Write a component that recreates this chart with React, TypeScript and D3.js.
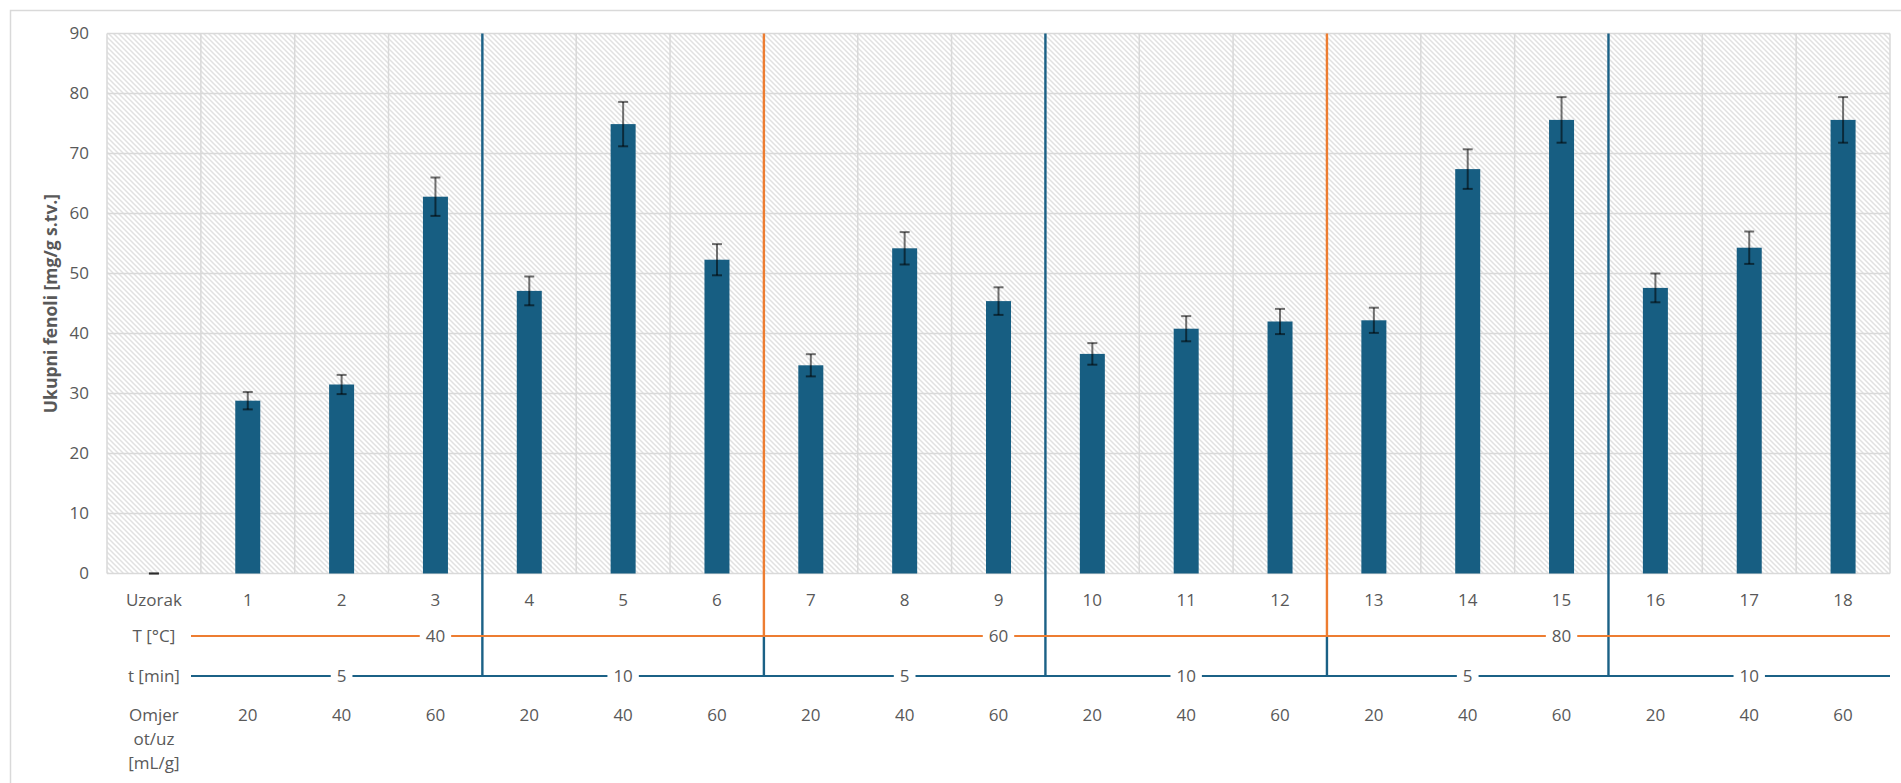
import React from "react";
import * as d3 from "d3";

// Sample labels (first slot carries the row caption "Uzorak")
const samples = ["Uzorak", "1", "2", "3", "4", "5", "6", "7", "8", "9", "10", "11", "12", "13", "14", "15", "16", "17", "18"];
// Total phenols, mg/g dry matter, and standard deviation
const phenols = [0, 28.8, 31.5, 62.8, 47.1, 74.9, 52.3, 34.7, 54.2, 45.4, 36.6, 40.8, 42.0, 42.2, 67.4, 75.6, 47.6, 54.3, 75.6];
const phenolsSd = [0, 1.45, 1.6, 3.2, 2.4, 3.7, 2.6, 1.85, 2.7, 2.3, 1.8, 2.1, 2.1, 2.1, 3.3, 3.8, 2.4, 2.7, 3.8];
// Extraction conditions per sample (index 0 is the caption slot)
const tempC = [null, 40, 40, 40, 40, 40, 40, 60, 60, 60, 60, 60, 60, 80, 80, 80, 80, 80, 80];
const timeMin = [null, 5, 5, 5, 10, 10, 10, 5, 5, 5, 10, 10, 10, 5, 5, 5, 10, 10, 10];
const ratio = [null, 20, 40, 60, 20, 40, 60, 20, 40, 60, 20, 40, 60, 20, 40, 60, 20, 40, 60];
const yTicks = [0, 10, 20, 30, 40, 50, 60, 70, 80, 90];

const W = 1901;
const H = 783;
const plot = { left: 107, right: 1890, top: 33.5, bottom: 573.5 };
const FONT = "'Open Sans', 'Noto Sans', sans-serif";
const TEXT = "#595959";
const GRID = "#d9d9d9";
const BAR = "#175e82";
const ORANGE = "#ed7d31";
const BLUE = "#1b6186";

const rowY = { sample: 600, temp: 636, time: 676, ratio: 715 };
const rowLineStart = 191;

type Run = { value: number; start: number; end: number };

function runs(values: (number | null)[]): Run[] {
  const out: Run[] = [];
  values.forEach((v, i) => {
    if (v === null) return;
    const last = out[out.length - 1];
    if (last && last.value === v && last.end === i - 1) last.end = i;
    else out.push({ value: v, start: i, end: i });
  });
  return out;
}

export default function App() {
  const x = d3.scaleBand<string>().domain(samples).range([plot.left, plot.right]).padding(0);
  const y = d3.scaleLinear().domain([0, 90]).range([plot.bottom, plot.top]);
  const bw = x.bandwidth();
  const barW = 25;
  const cx = (i: number) => (x(samples[i]) as number) + bw / 2;
  const edge = (i: number) => x(samples[i]) as number;

  const tempRuns = runs(tempC);
  const timeRuns = runs(timeMin);

  // boundaries where the temperature changes and where only time changes
  const tempBreaks = tempRuns.slice(1).map((r) => r.start);
  const timeBreaks = timeRuns.slice(1).map((r) => r.start).filter((s) => !tempBreaks.includes(s));

  const labelW = (s: string) => s.length * 9.7 + 12;

  const rowLine = (rs: Run[], yy: number, color: string, key: string) => {
    const gaps = rs.map((r) => {
      const c = cx(Math.floor((r.start + r.end) / 2));
      const hw = labelW(String(r.value)) / 2;
      return [c - hw, c + hw];
    });
    const segs: [number, number][] = [];
    let from = rowLineStart;
    gaps.forEach(([a, b]) => {
      segs.push([from, a]);
      from = b;
    });
    segs.push([from, plot.right]);
    return (
      <g key={key}>
        {segs.map(([a, b], i) => (
          <line key={i} x1={a} x2={b} y1={yy} y2={yy} stroke={color} strokeWidth={2.2} />
        ))}
        {rs.map((r, i) => (
          <text
            key={"t" + i}
            x={cx(Math.floor((r.start + r.end) / 2))}
            y={yy}
            dy="0.35em"
            textAnchor="middle"
            fill={TEXT}
            fontSize={17}
          >
            {r.value}
          </text>
        ))}
      </g>
    );
  };

  return (
    <svg
      width={W}
      height={H}
      style={{ position: "absolute", left: 0, top: 0, background: "#fff" }}
      fontFamily={FONT}
    >
      <defs>
        <pattern id="hatch" patternUnits="userSpaceOnUse" width={5} height={5}>
          <rect width={5} height={5} fill="#fff" />
          <path d="M-1,-1 L6,6 M-1,4 L1,6 M4,-1 L6,1" stroke="#e1e1e1" strokeWidth={1.5} />
        </pattern>
      </defs>

      {/* chart frame */}
      <rect x={10.5} y={10.5} width={W + 20} height={H + 20} fill="none" stroke={GRID} strokeWidth={1.5} />

      {/* plot area */}
      <rect x={plot.left} y={plot.top} width={plot.right - plot.left} height={plot.bottom - plot.top} fill="url(#hatch)" />

      {yTicks.map((t) => (
        <line key={"h" + t} x1={plot.left} x2={plot.right} y1={y(t)} y2={y(t)} stroke={GRID} strokeWidth={1.5} />
      ))}
      {samples.map((s, i) => (
        <line key={"v" + i} x1={edge(i)} x2={edge(i)} y1={plot.top} y2={plot.bottom} stroke={GRID} strokeWidth={1.5} />
      ))}
      <line x1={plot.right} x2={plot.right} y1={plot.top} y2={plot.bottom} stroke={GRID} strokeWidth={1.5} />

      {/* y tick labels */}
      {yTicks.map((t) => (
        <text key={"yl" + t} x={89} y={y(t)} dy="0.35em" textAnchor="end" fill={TEXT} fontSize={17}>
          {t}
        </text>
      ))}

      {/* y axis title */}
      <text
        transform={`translate(51,${(plot.top + plot.bottom) / 2}) rotate(-90)`}
        textAnchor="middle"
        dy="0.35em"
        fill={TEXT}
        fontSize={17.5}
        fontWeight="bold"
      >
        Ukupni fenoli [mg/g s.tv.]
      </text>

      {/* separators between condition groups */}
      {timeBreaks.map((s) => (
        <line key={"tb" + s} x1={edge(s)} x2={edge(s)} y1={plot.top} y2={rowY.time} stroke={BLUE} strokeWidth={2.4} />
      ))}
      {tempBreaks.map((s) => (
        <g key={"Tb" + s}>
          <line x1={edge(s)} x2={edge(s)} y1={rowY.temp} y2={rowY.time} stroke={BLUE} strokeWidth={2.4} />
          <line x1={edge(s)} x2={edge(s)} y1={plot.top} y2={rowY.temp} stroke={ORANGE} strokeWidth={2.4} />
        </g>
      ))}

      {/* bars */}
      {phenols.map((v, i) => (
        <rect key={"b" + i} x={cx(i) - barW / 2} y={y(v)} width={barW} height={y(0) - y(v)} fill={BAR} />
      ))}

      {/* error bars */}
      {phenols.map((v, i) => {
        const hi = y(v + phenolsSd[i]);
        const lo = y(v - phenolsSd[i]);
        const c = cx(i);
        return (
          <g key={"e" + i} stroke="rgba(0,0,0,0.55)" strokeWidth={2}>
            <line x1={c} x2={c} y1={hi} y2={lo} />
            <line x1={c - 5} x2={c + 5} y1={hi} y2={hi} />
            <line x1={c - 5} x2={c + 5} y1={lo} y2={lo} />
          </g>
        );
      })}

      {/* sample row */}
      {samples.map((s, i) => (
        <text key={"s" + i} x={cx(i)} y={rowY.sample} dy="0.35em" textAnchor="middle" fill={TEXT} fontSize={17}>
          {s}
        </text>
      ))}

      {/* condition rows */}
      <text x={cx(0)} y={rowY.temp} dy="0.35em" textAnchor="middle" fill={TEXT} fontSize={17}>
        T [°C]
      </text>
      <text x={cx(0)} y={rowY.time} dy="0.35em" textAnchor="middle" fill={TEXT} fontSize={17}>
        t [min]
      </text>
      {rowLine(tempRuns, rowY.temp, ORANGE, "temp")}
      {rowLine(timeRuns, rowY.time, BLUE, "time")}

      <text x={cx(0)} y={rowY.ratio} textAnchor="middle" fill={TEXT} fontSize={17}>
        <tspan x={cx(0)} dy="0.35em">Omjer</tspan>
        <tspan x={cx(0)} dy={24}>ot/uz</tspan>
        <tspan x={cx(0)} dy={24}>[mL/g]</tspan>
      </text>
      {ratio.map((r, i) =>
        r === null ? null : (
          <text key={"r" + i} x={cx(i)} y={rowY.ratio} dy="0.35em" textAnchor="middle" fill={TEXT} fontSize={17}>
            {r}
          </text>
        )
      )}
    </svg>
  );
}
